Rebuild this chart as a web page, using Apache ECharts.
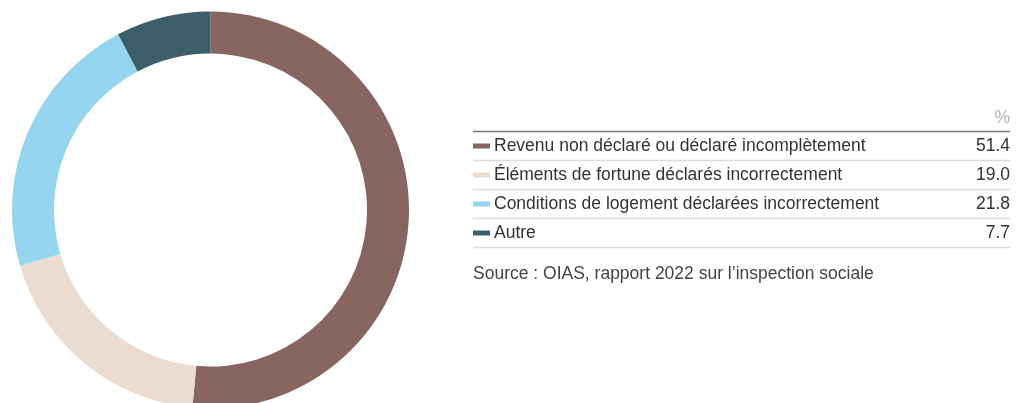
<!DOCTYPE html>
<html><head><meta charset="utf-8">
<script src="https://cdn.jsdelivr.net/npm/echarts@6/dist/echarts.min.js"></script>
<style>html,body{margin:0;padding:0;background:#fff}#c{width:1027px;height:403px}</style>
</head><body><div id="c"></div>
<script>
const categories = ["Revenu non déclaré ou déclaré incomplètement","Éléments de fortune déclarés incorrectement","Conditions de logement déclarées incorrectement","Autre"];
const values = [51.4, 19.0, 21.8, 7.7];
const valueLabels = ["51.4","19.0","21.8","7.7"];
const colors = ["#876560","#ebdcd1","#95d5ef","#3d5d69"];
const unitLabel = "%";
const sourceText = "Source : OIAS, rapport 2022 sur l’inspection sociale";

const FONT = "Liberation Sans, Arial, sans-serif";
const FS = '17.5px ';
const X0 = 473, X1 = 1010, TOP = 131.5, ROW = 29;
const g = [];
g.push({type:'text', x: X1, y: 118, style:{text: unitLabel, fill:'#b5b5b5', font: FS + FONT, textAlign:'right', textVerticalAlign:'middle'}});
g.push({type:'rect', shape:{x:X0, y:TOP-0.75, width:X1-X0, height:1.5}, style:{fill:'#777'}});
categories.forEach((c,i)=>{
  const yc = TOP + ROW*i + ROW/2;
  g.push({type:'rect', shape:{x:X0, y:yc-2.5, width:17, height:5}, style:{fill:colors[i]}});
  g.push({type:'text', x:494, y:yc, style:{text:c, fill:'#333', font:FS + FONT, textVerticalAlign:'middle'}});
  g.push({type:'text', x:X1, y:yc, style:{text:valueLabels[i], fill:'#333', font:FS + FONT, textAlign:'right', textVerticalAlign:'middle'}});
  g.push({type:'rect', shape:{x:X0, y:TOP + ROW*(i+1) - 0.75, width:X1-X0, height:1.5}, style:{fill: '#dcdcdc'}});
});
g.push({type:'text', x:X0, y:274, style:{text:sourceText, fill:'#444', font:FS + FONT, textVerticalAlign:'middle'}});

const chart = echarts.init(document.getElementById('c'));
chart.setOption({
  animation:false,
  graphic: g,
  series:[{
    type:'pie',
    center:[210.5, 210],
    radius:[156.5, 198.5],
    startAngle:90,
    clockwise:true,
    label:{show:false},
    labelLine:{show:false},
    emphasis:{disabled:true},
    itemStyle:{borderWidth:0},
    data: categories.map((c,i)=>({name:c, value:values[i], itemStyle:{color:colors[i]}}))
  }]
});
</script></body></html>
